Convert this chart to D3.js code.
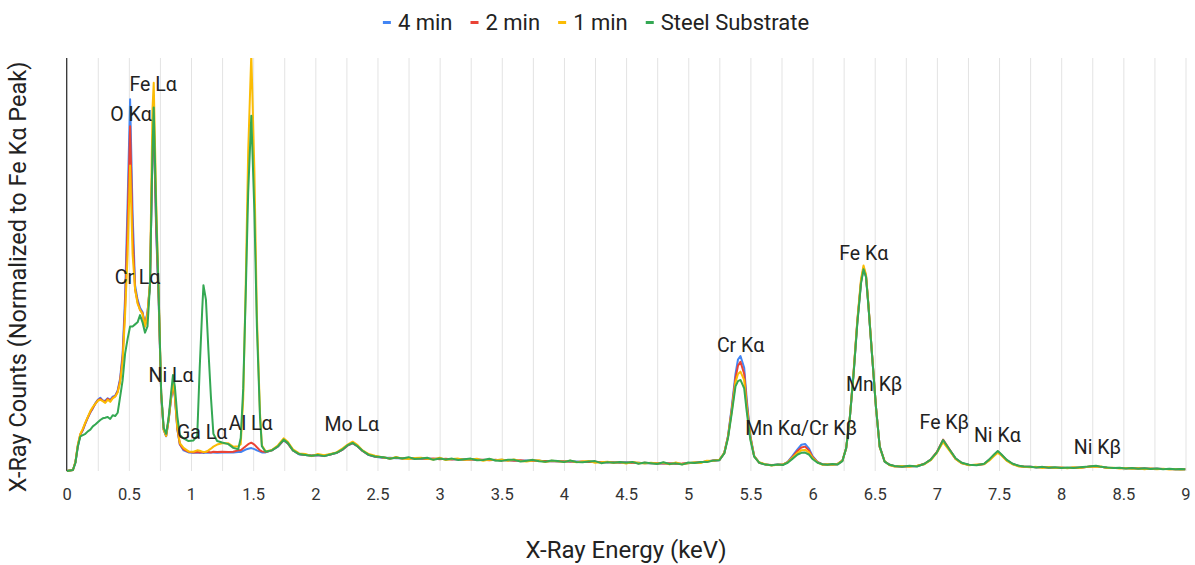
<!DOCTYPE html>
<html>
<head>
<meta charset="utf-8">
<script src="https://cdn.jsdelivr.net/npm/d3@7"></script>
<style>
body { margin: 0; background: #fff; }
text { font-family: Roboto, "Noto Sans", Arial, sans-serif; }
</style>
</head>
<body>
<svg id="chart" width="1195" height="565"></svg>
<script>
// EDS spectra, counts normalized to the Fe Ka peak
var energy = [
  0,0.05,0.07,0.09,0.11,0.13,0.15,0.17,0.19,0.21,0.23,0.25,0.27,0.29,0.31,0.33,0.35,0.37,0.39,0.41,0.43,0.45,0.47,
  0.49,0.51,0.53,0.55,0.57,0.59,0.61,0.63,0.65,0.67,0.69,0.70,0.72,0.74,0.76,
  0.78,0.80,0.82,0.84,0.855,0.87,0.89,0.91,0.94,0.98,1.02,
  1.05,1.07,1.09,1.10,1.12,1.14,1.16,1.18,1.21,1.25,1.30,1.34,1.38,
  1.40,1.42,1.44,1.46,1.485,1.51,1.53,1.555,1.57,1.60,
  1.65,1.70,1.745,1.78,1.82,1.87,1.92,1.97,2.02,2.07,2.12,2.17,2.22,2.26,2.30,2.34,2.38,2.43,2.48,
  2.55,2.6,2.65,2.7,2.75,2.8,2.85,2.9,2.95,3.0,
  3.05,3.1,3.15,3.2,3.25,3.3,3.35,3.4,3.45,3.5,
  3.55,3.6,3.65,3.7,3.75,3.8,3.85,3.9,3.95,4.0,
  4.05,4.1,4.15,4.2,4.25,4.3,4.35,4.4,4.45,4.5,
  4.55,4.6,4.65,4.7,4.75,4.8,4.85,4.9,4.95,5.0,
  5.05,5.1,5.15,5.2,
  5.25,5.29,5.32,5.35,5.38,5.40,5.42,5.45,5.47,5.50,5.53,5.57,
  5.62,5.67,5.72,5.76,5.80,5.84,5.88,5.91,5.94,5.97,6.00,6.04,6.08,6.12,6.16,6.20,6.24,
  6.27,6.30,6.33,6.36,6.39,6.41,6.43,6.45,6.48,6.51,6.54,6.58,6.62,
  6.66,6.72,6.78,6.84,6.90,6.95,7.00,7.05,7.10,7.15,7.20,7.26,7.32,7.38,7.42,7.46,7.49,7.52,7.56,7.61,7.66,7.70,
  7.75,7.80,7.85,7.90,7.95,8.00,8.05,8.10,8.15,8.20,
  8.24,8.28,8.32,8.37,8.42,8.47,8.52,8.57,8.62,8.67,
  8.72,8.77,8.82,8.87,8.92,8.96,9.00
];

var min4 = [
  0,0.005,0.04,0.12,0.175,0.198,0.23,0.258,0.283,0.303,0.328,0.345,0.355,0.342,0.34,0.352,0.345,0.36,0.365,0.39,0.45,0.57,0.85,
  1.3,1.8,1.25,0.9,0.83,0.79,0.77,0.71,0.77,0.9,1.55,1.68,1.15,0.82,0.37,
  0.2,0.168,0.245,0.35,0.415,0.36,0.2,0.128,0.1,0.09,0.088,
  0.09,0.088,0.09,0.087,0.09,0.088,0.089,0.09,0.088,0.09,0.089,0.09,0.092,
  0.092,0.098,0.104,0.108,0.111,0.106,0.1,0.094,0.09,0.09,
  0.1,0.118,0.148,0.132,0.1,0.08,0.078,0.074,0.076,0.073,0.08,0.087,0.103,0.123,0.134,0.119,0.097,0.077,0.069,
  0.063,0.064,0.062,0.063,0.061,0.062,0.059,0.061,0.058,0.060,
  0.057,0.058,0.056,0.057,0.055,0.056,0.053,0.055,0.052,0.054,
  0.051,0.052,0.050,0.051,0.049,0.050,0.047,0.049,0.046,0.048,
  0.045,0.046,0.044,0.045,0.043,0.044,0.041,0.043,0.040,0.042,
  0.039,0.040,0.038,0.039,0.036,0.038,0.035,0.037,0.034,0.037,
  0.041,0.041,0.047,0.050,
  0.052,0.088,0.17,0.31,0.47,0.54,0.557,0.50,0.35,0.17,0.074,0.041,
  0.031,0.028,0.031,0.03,0.044,0.074,0.106,0.127,0.131,0.11,0.072,0.044,0.032,0.031,0.032,0.033,0.05,
  0.108,0.258,0.47,0.72,0.915,0.98,0.94,0.795,0.55,0.31,0.118,0.045,0.03,
  0.023,0.022,0.023,0.023,0.034,0.054,0.09,0.146,0.104,0.06,0.038,0.029,0.029,0.034,0.053,0.077,0.093,0.077,0.053,0.034,0.024,0.021,
  0.02,0.018,0.018,0.017,0.016,0.016,0.015,0.016,0.016,0.019,
  0.022,0.023,0.02,0.016,0.015,0.014,0.013,0.013,0.012,0.012,
  0.011,0.011,0.01,0.01,0.009,0.009,0.008
];

var min2 = [
  0,0.005,0.042,0.125,0.178,0.2,0.232,0.26,0.285,0.305,0.325,0.342,0.35,0.34,0.335,0.35,0.34,0.355,0.362,0.385,0.44,0.55,0.8,
  1.2,1.67,1.15,0.88,0.82,0.78,0.765,0.7,0.765,0.9,1.58,1.7,1.18,0.83,0.37,
  0.2,0.17,0.25,0.355,0.42,0.365,0.205,0.13,0.105,0.093,0.09,
  0.092,0.09,0.092,0.09,0.093,0.092,0.09,0.093,0.092,0.093,0.092,0.093,0.1,
  0.1,0.11,0.12,0.13,0.137,0.128,0.115,0.1,0.095,0.092,
  0.1,0.12,0.15,0.133,0.1,0.082,0.077,0.075,0.077,0.074,0.08,0.088,0.104,0.124,0.135,0.12,0.097,0.078,0.07,
  0.065,0.061,0.064,0.060,0.063,0.060,0.062,0.058,0.060,0.057,
  0.059,0.056,0.058,0.055,0.057,0.054,0.055,0.052,0.054,0.051,
  0.053,0.050,0.052,0.049,0.051,0.048,0.049,0.047,0.048,0.046,
  0.047,0.044,0.046,0.043,0.045,0.042,0.043,0.041,0.042,0.040,
  0.041,0.038,0.040,0.037,0.038,0.036,0.037,0.035,0.036,0.039,
  0.040,0.043,0.046,0.051,
  0.053,0.087,0.168,0.30,0.45,0.51,0.529,0.47,0.33,0.165,0.072,0.04,
  0.032,0.029,0.03,0.031,0.043,0.07,0.098,0.114,0.118,0.1,0.068,0.043,0.032,0.031,0.032,0.033,0.05,
  0.11,0.262,0.475,0.725,0.92,0.985,0.945,0.8,0.55,0.31,0.118,0.046,0.03,
  0.023,0.022,0.023,0.024,0.035,0.055,0.092,0.152,0.106,0.06,0.038,0.029,0.029,0.034,0.053,0.078,0.094,0.078,0.053,0.034,0.024,0.021,
  0.02,0.018,0.018,0.017,0.016,0.016,0.015,0.016,0.016,0.019,
  0.022,0.023,0.02,0.016,0.015,0.014,0.013,0.013,0.012,0.012,
  0.011,0.011,0.01,0.01,0.009,0.009,0.008
];

var min1 = [
  0,0.005,0.045,0.13,0.18,0.205,0.235,0.262,0.29,0.31,0.325,0.34,0.345,0.338,0.33,0.345,0.335,0.352,0.36,0.38,0.43,0.53,0.76,
  1.05,1.48,1.05,0.88,0.81,0.78,0.76,0.70,0.76,0.92,1.75,1.88,1.3,0.86,0.38,
  0.2,0.17,0.25,0.36,0.425,0.37,0.21,0.135,0.112,0.095,0.093,
  0.1,0.098,0.094,0.092,0.093,0.1,0.108,0.118,0.128,0.134,0.134,0.118,0.12,
  0.13,0.35,0.9,1.55,2.02,1.45,0.75,0.28,0.125,0.095,
  0.102,0.125,0.158,0.14,0.105,0.085,0.082,0.072,0.082,0.076,0.083,0.09,0.11,0.128,0.142,0.125,0.1,0.082,0.074,
  0.065,0.060,0.068,0.060,0.058,0.063,0.064,0.059,0.056,0.064,
  0.053,0.058,0.060,0.054,0.056,0.059,0.050,0.056,0.052,0.056,
  0.049,0.056,0.049,0.046,0.051,0.052,0.043,0.050,0.047,0.045,
  0.050,0.042,0.046,0.049,0.040,0.042,0.045,0.040,0.043,0.036,
  0.044,0.040,0.036,0.040,0.036,0.040,0.032,0.041,0.033,0.038,
  0.042,0.039,0.050,0.049,
  0.054,0.088,0.165,0.29,0.43,0.47,0.481,0.44,0.31,0.16,0.072,0.042,
  0.033,0.026,0.03,0.032,0.042,0.065,0.088,0.1,0.102,0.09,0.063,0.042,0.03,0.033,0.03,0.034,0.05,
  0.11,0.26,0.48,0.73,0.93,0.995,0.95,0.8,0.555,0.31,0.115,0.047,0.028,
  0.022,0.024,0.02,0.026,0.033,0.052,0.088,0.14,0.1,0.058,0.037,0.028,0.031,0.033,0.05,0.072,0.088,0.075,0.05,0.032,0.022,0.02,
  0.018,0.02,0.015,0.019,0.014,0.017,0.013,0.018,0.015,0.019,
  0.022,0.021,0.022,0.014,0.016,0.012,0.015,0.011,0.013,0.009,
  0.012,0.008,0.011,0.007,0.01,0.007,0.008
];

var steel = [
  0,0.005,0.04,0.12,0.168,0.174,0.18,0.192,0.2,0.216,0.225,0.236,0.247,0.255,0.258,0.262,0.252,0.27,0.266,0.282,0.36,0.44,0.57,
  0.64,0.70,0.70,0.71,0.72,0.755,0.72,0.67,0.70,0.9,1.55,1.76,1.25,0.85,0.38,
  0.21,0.18,0.26,0.38,0.465,0.41,0.265,0.175,0.158,0.145,0.148,
  0.17,0.5,0.78,0.9,0.83,0.586,0.36,0.18,0.145,0.138,0.13,0.112,0.105,
  0.16,0.40,0.85,1.35,1.72,1.25,0.7,0.26,0.12,0.093,
  0.1,0.12,0.152,0.135,0.1,0.082,0.078,0.074,0.078,0.072,0.08,0.088,0.105,0.125,0.136,0.12,0.098,0.078,0.07,
  0.067,0.059,0.065,0.061,0.067,0.058,0.060,0.064,0.054,0.061,
  0.056,0.060,0.053,0.057,0.060,0.052,0.053,0.059,0.051,0.049,
  0.054,0.054,0.046,0.050,0.054,0.047,0.045,0.051,0.048,0.043,
  0.051,0.044,0.042,0.046,0.048,0.038,0.043,0.040,0.044,0.040,
  0.044,0.035,0.041,0.038,0.034,0.042,0.034,0.037,0.031,0.041,
  0.039,0.044,0.043,0.051,
  0.052,0.085,0.16,0.28,0.41,0.435,0.441,0.40,0.29,0.15,0.07,0.04,
  0.031,0.028,0.032,0.029,0.04,0.06,0.08,0.088,0.089,0.08,0.058,0.04,0.033,0.03,0.034,0.031,0.048,
  0.11,0.26,0.47,0.715,0.91,0.977,0.94,0.795,0.55,0.31,0.118,0.045,0.03,
  0.024,0.021,0.025,0.022,0.035,0.055,0.09,0.15,0.105,0.062,0.04,0.03,0.028,0.035,0.055,0.08,0.097,0.08,0.055,0.035,0.025,0.022,
  0.021,0.017,0.02,0.016,0.018,0.014,0.017,0.015,0.018,0.02,
  0.023,0.025,0.02,0.017,0.014,0.016,0.012,0.014,0.011,0.013,
  0.01,0.012,0.009,0.011,0.008,0.01,0.008
];

var seriesNames = ["4 min", "2 min", "1 min", "Steel Substrate"];
var seriesColors = ["#4285F4", "#EA4335", "#FBBC04", "#34A853"];

// peak labels: text, energy (keV) and height where the label sits
var peakNames  = ["Fe Lα", "O Kα", "Cr Lα", "Ni Lα", "Ga Lα", "Al Lα", "Mo Lα", "Cr Kα", "Mn Kα/Cr Kβ", "Fe Kα", "Mn Kβ", "Fe Kβ", "Ni Kα", "Ni Kβ"];
var peakEnergy = [0.695, 0.518, 0.57, 0.84, 1.089, 1.48, 2.293, 5.421, 5.908, 6.412, 6.496, 7.06, 7.486, 8.291];
var peakLevel  = [1.874, 1.726, 0.939, 0.465, 0.186, 0.232, 0.225, 0.608, 0.208, 1.056, 0.419, 0.235, 0.172, 0.114];

var xTickValues = [0, 0.5, 1, 1.5, 2, 2.5, 3, 3.5, 4, 4.5, 5, 5.5, 6, 6.5, 7, 7.5, 8, 8.5, 9];

var series = [min4, min2, min1, steel];
series.forEach(function(s, i) {
  if (s.length != energy.length) throw new Error(seriesNames[i] + " has " + s.length + " values, energy has " + energy.length);
});

var svg = d3.select("#chart");
var plotTop = 58, plotBottom = 471, plotLeft = 66.7, plotRight = 1185.5;

var x = d3.scaleLinear().domain([0, 9]).range([plotLeft, plotRight]);
var y = d3.scaleLinear().domain([0, 2]).range([plotBottom, plotTop]);

// vertical gridlines every 0.25 keV
svg.append("g")
  .attr("transform", "translate(0," + plotBottom + ")")
  .call(d3.axisBottom(x).tickValues(d3.range(0.25, 9.01, 0.25)).tickSize(-(plotBottom - plotTop)).tickFormat(""))
  .call(function(g) {
    g.select(".domain").remove();
    g.selectAll("line").attr("stroke", "#e3e3e3").attr("stroke-width", 1);
  });

// x tick labels
svg.append("g")
  .attr("transform", "translate(0," + plotBottom + ")")
  .call(d3.axisBottom(x).tickValues(xTickValues).tickSize(0).tickPadding(17).tickFormat(function(d) { return String(d); }))
  .call(function(g) {
    g.select(".domain").remove();
    g.selectAll("text").attr("font-size", 16.5).attr("fill", "#333").style("font-family", "Roboto, sans-serif");
  });

// left axis line
svg.append("line")
  .attr("x1", plotLeft).attr("x2", plotLeft)
  .attr("y1", plotTop).attr("y2", plotBottom)
  .attr("stroke", "#333").attr("stroke-width", 1.3);

svg.append("clipPath").attr("id", "plotclip")
  .append("rect")
  .attr("x", plotLeft).attr("y", plotTop)
  .attr("width", plotRight - plotLeft).attr("height", plotBottom - plotTop + 2);

var line = d3.line()
  .x(function(d) { return x(d[0]); })
  .y(function(d) { return y(d[1]); });

var lines = svg.append("g").attr("clip-path", "url(#plotclip)");
series.forEach(function(s, i) {
  lines.append("path")
    .datum(d3.zip(energy, s))
    .attr("fill", "none")
    .attr("stroke", seriesColors[i])
    .attr("stroke-width", 2)
    .attr("stroke-linejoin", "round")
    .attr("d", line);
});

// peak annotations
svg.append("g").selectAll("text")
  .data(peakNames)
  .join("text")
  .attr("x", function(d, i) { return x(peakEnergy[i]); })
  .attr("y", function(d, i) { return y(peakLevel[i]); })
  .attr("dy", "0.35em")
  .attr("text-anchor", "middle")
  .attr("font-size", 19.5)
  .attr("fill", "#222")
  .text(function(d) { return d; });

// axis titles
svg.append("text")
  .attr("x", (plotLeft + plotRight) / 2).attr("y", 558)
  .attr("text-anchor", "middle")
  .attr("font-size", 24).attr("fill", "#222")
  .text("X-Ray Energy (keV)");

svg.append("text")
  .attr("transform", "translate(26," + 277 + ") rotate(-90)")
  .attr("text-anchor", "middle")
  .attr("font-size", 23.5).attr("fill", "#222")
  .text("X-Ray Counts (Normalized to Fe Kα Peak)");

// legend, centred above the plot
var legend = svg.append("g");
var lx = 0;
seriesNames.forEach(function(name, i) {
  var item = legend.append("g").attr("transform", "translate(" + lx + ",0)");
  item.append("rect").attr("x", 0).attr("y", 21).attr("width", 8).attr("height", 3).attr("fill", seriesColors[i]);
  var t = item.append("text").attr("x", 15).attr("y", 30)
    .attr("font-size", 22).attr("fill", "#222").text(name);
  lx += 15 + t.node().getComputedTextLength() + 18;
});
lx -= 18;
legend.attr("transform", "translate(" + (596 - lx / 2) + ",0)");
</script>
</body>
</html>
